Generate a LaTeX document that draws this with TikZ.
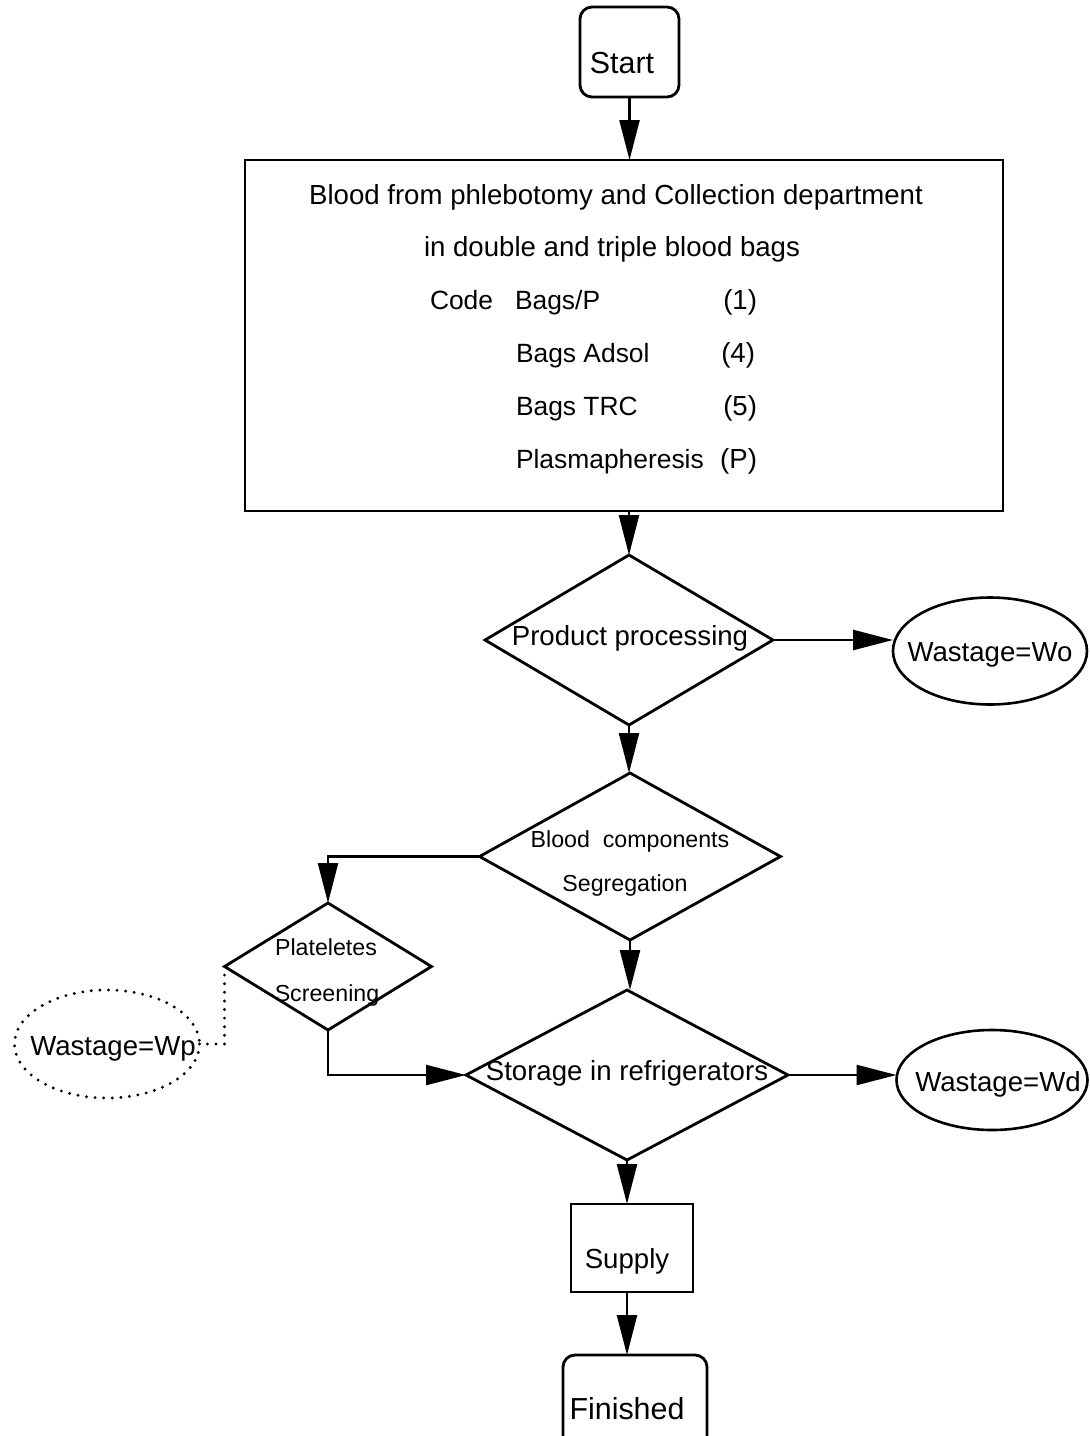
\documentclass[tikz,border=0pt]{standalone}
\usepackage{fontspec}
\setmainfont{Liberation Sans}
\usetikzlibrary{shapes.geometric,arrows.meta}

\begin{document}
\begin{tikzpicture}[x=0.5pt,y=-0.5pt,
  every node/.style={inner sep=0pt,outer sep=0pt},
  txt/.style={font=\fontsize{13.8}{16}\selectfont, anchor=base},
  code/.style={font=\fontsize{13.2}{16}\selectfont, anchor=base west},
  small/.style={font=\fontsize{11.6}{14}\selectfont, anchor=base},
  big/.style={font=\fontsize{15.2}{18}\selectfont, anchor=base},
  box/.style={draw, line width=1.4pt, rectangle},
  rbox/.style={box, rounded corners=6pt},
  dia/.style={draw, line width=1.4pt, diamond},
  oval/.style={draw, line width=1.3pt, ellipse},
  dotline/.style={line width=1.6pt, dash pattern=on 0pt off 4.3pt, line cap=round},
  flow/.style={line width=1.2pt, -{Triangle[length=20pt,width=10pt]}}
]
\path[use as bounding box] (0,0) rectangle (1090,1436);
\clip (0,0) rectangle (1090,1436);

% boxes and decisions
\node[rbox, minimum width=49.5pt, minimum height=45pt] (start) at (629.5,52) {};
\node[box, minimum width=379pt, minimum height=175.5pt] (src) at (624,335.5) {};
\node[dia, minimum width=144pt, minimum height=85pt] (pp) at (629,640) {};
\node[dia, minimum width=150.5pt, minimum height=83.5pt] (seg) at (630,856.5) {};
\node[dia, minimum width=103.5pt, minimum height=63.5pt] (plt) at (328,966.5) {};
\node[dia, minimum width=161pt, minimum height=85pt] (sto) at (627,1075) {};
\node[box, minimum width=61pt, minimum height=44pt] (sup) at (632,1248) {};
\node[rbox, minimum width=72pt, minimum height=52pt] (fin) at (635,1407) {};

% wastage outcomes
\node[oval, minimum width=97pt, minimum height=53.5pt] (wo) at (990,651) {};
\node[oval, minimum width=95.5pt, minimum height=50pt] (wd) at (992,1080) {};
\node[oval, draw=none, minimum width=92.5pt, minimum height=54pt] (wp) at (107,1044) {};
\draw[dotline] (wp.center) ellipse [x radius=92.5, y radius=54];

% texts
\node[big] (startT) at (622,73) {Start};
\node[txt] (l1) at (616,204) {Blood from phlebotomy and Collection department};
\node[txt] (l2) at (612,256) {in double and triple blood bags};
\node[code] (c0) at (430,309) {Code};
\node[code] (c1) at (515,309) {Bags/P};
\node[txt, anchor=base east] (n1) at (757,309) {(1)};
\node[code] (c2) at (516,362) {Bags Adsol};
\node[txt, anchor=base east] (n2) at (755,362) {(4)};
\node[code] (c3) at (516,415) {Bags TRC};
\node[txt, anchor=base east] (n3) at (757,415) {(5)};
\node[code] (c4) at (516,468) {Plasmapheresis};
\node[txt, anchor=base east] (n4) at (757,468) {(P)};

\node[txt] (ppT) at (630,645) {Product processing};
\node[small] (segT1) at (630,847) {Blood\ \ components};
\node[small] (segT2) at (625,891) {Segregation};
\node[small] (pltT1) at (326,955) {Plateletes};
\node[small] (pltT2) at (327,1001) {Screening};
\node[txt] (stoT) at (627,1080) {Storage in refrigerators};
\node[txt] (supT) at (627,1268) {Supply};
\node[big] (finT) at (627,1419) {Finished};
\node[txt] (woT) at (990,661) {Wastage=Wo};
\node[txt] (wdT) at (998,1091) {Wastage=Wd};
\node[txt] (wpT) at (113,1055) {Wastage=Wp};

% connectors
\draw[flow] (start.south) -- (start.south |- src.north);
\draw[flow] (src.south -| pp.north) -- (pp.north);
\draw[flow] (pp.east) -- (pp.east -| wo.west);
\draw[flow] (pp.south) -- (pp.south |- seg.north);
\draw[flow] (seg.west) -| (plt.north);
\draw[flow] (seg.south) -- (seg.south |- sto.north);
\draw[flow] (plt.south) |- (sto.west);
\draw[flow] (sto.east) -- (sto.east -| wd.west);
\draw[flow] (sto.south) -- (sto.south |- sup.north);
\draw[flow] (sto.south |- sup.south) -- (sto.south |- fin.north);
\draw[dotline] (plt.west) |- (wp.east);
\end{tikzpicture}
\end{document}
